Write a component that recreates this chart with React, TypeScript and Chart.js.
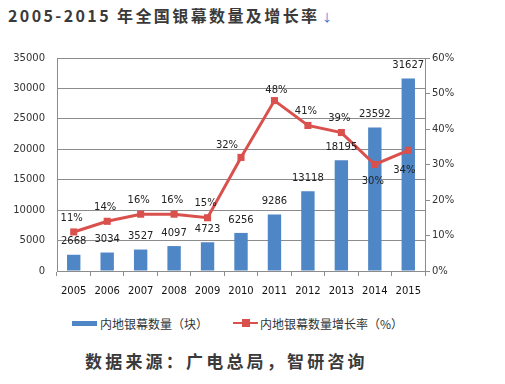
import React, { useEffect, useRef } from "react";
import { Chart, registerables } from "chart.js";

Chart.register(...registerables);

const years = ["2005", "2006", "2007", "2008", "2009", "2010", "2011", "2012", "2013", "2014", "2015"];
const screens = [2668, 3034, 3527, 4097, 4723, 6256, 9286, 13118, 18195, 23592, 31627];
const growth = [11, 14, 16, 16, 15, 32, 48, 41, 39, 30, 34];
const leftTicks = [0, 5000, 10000, 15000, 20000, 25000, 30000, 35000];
const rightTicks = [0, 10, 20, 30, 40, 50, 60];

const BAR_COLOR = "#4F86C6";
const LINE_COLOR = "#D9504D";
const GRID = "#8c8c8c";
const TXT = "#333333";
const NUM_FONT = "'DejaVu Sans', sans-serif";
const CJK = "'Noto Sans CJK SC', sans-serif";

const labelPlugin = {
  id: "valueLabels",
  afterDatasetsDraw(chart: any) {
    const ctx = chart.ctx;
    ctx.save();
    ctx.font = `10px ${NUM_FONT}`;
    ctx.fillStyle = "#222";
    ctx.textAlign = "center";
    ctx.textBaseline = "middle";
    const barMeta = chart.getDatasetMeta(0);
    barMeta.data.forEach((el: any, i: number) => {
      ctx.fillText(String(screens[i]), el.x, el.y - 13);
    });
    const lineMeta = chart.getDatasetMeta(1);
    lineMeta.data.forEach((el: any, i: number) => {
      let dx = -2;
      let dy = -14;
      if (i === 5) { dx = -14; dy = -12; }
      if (i === 6) { dx = 2; dy = -10; }
      if (i === 9) { dx = -2; dy = 17; }
      if (i === 10) { dx = -4; dy = 20; }
      ctx.fillText(growth[i] + "%", el.x + dx, el.y + dy);
    });
    ctx.restore();
  },
};

export default function App() {
  const ref = useRef<HTMLCanvasElement>(null);
  useEffect(() => {
    if (!ref.current) return;
    const chart = new Chart(ref.current, {
      type: "bar",
      data: {
        labels: years,
        datasets: [
          {
            type: "bar",
            label: "内地银幕数量（块）",
            data: screens,
            backgroundColor: BAR_COLOR,
            categoryPercentage: 1,
            barPercentage: 0.4,
            yAxisID: "y",
            order: 2,
          },
          {
            type: "line",
            label: "内地银幕数量增长率（%）",
            data: growth,
            borderColor: LINE_COLOR,
            backgroundColor: LINE_COLOR,
            borderWidth: 3,
            pointStyle: "rect",
            pointRadius: 5,
            pointBorderWidth: 0,
            tension: 0,
            yAxisID: "y1",
            order: 1,
          } as any,
        ],
      },
      options: {
        animation: false,
        responsive: false,
        maintainAspectRatio: false,
        layout: { padding: { top: 14, left: 0, right: 0, bottom: 0 } },
        plugins: {
          legend: { display: false },
          tooltip: { enabled: false },
        },
        scales: {
          x: {
            offset: true,
            grid: { offset: true, drawOnChartArea: false, drawTicks: true, tickLength: 5, color: GRID },
            border: { color: GRID },
            ticks: { color: "#111", font: { family: NUM_FONT, size: 10 }, padding: 9, maxRotation: 0 },
            afterFit(s: any) { s.height = 39; },
          },
          y: {
            position: "left",
            min: 0,
            max: 35000,
            afterBuildTicks(s: any) { s.ticks = leftTicks.map((v) => ({ value: v })); },
            grid: { color: GRID, drawTicks: false },
            border: { color: GRID },
            ticks: { color: TXT, font: { family: NUM_FONT, size: 10 }, padding: 12, callback: (v: any) => String(v) },
            afterFit(s: any) { s.width = 57; },
          },
          y1: {
            position: "right",
            min: 0,
            max: 60,
            afterBuildTicks(s: any) { s.ticks = rightTicks.map((v) => ({ value: v })); },
            grid: { drawOnChartArea: false, drawTicks: true, tickLength: 5, color: GRID },
            border: { color: GRID },
            ticks: { color: TXT, font: { family: NUM_FONT, size: 10 }, padding: 2, callback: (v: any) => v + "%" },
            afterFit(s: any) { s.width = 80; },
          },
        },
      },
      plugins: [labelPlugin],
    });
    return () => chart.destroy();
  }, []);

  return (
    <div style={{ position: "absolute", left: 0, top: 0, width: 505, height: 384, background: "#fff", overflow: "hidden" }}>
      <div
        style={{
          position: "absolute",
          left: 8,
          top: 3,
          fontFamily: CJK,
          fontWeight: 700,
          fontSize: 16,
          letterSpacing: 2.4,
          color: "#3a3a3a",
          whiteSpace: "nowrap",
        }}
      >
        2005-2015 年全国银幕数量及增长率
        <span style={{ color: "#3a6fd8", fontSize: 11, fontWeight: 400, marginLeft: 2 }}>↓</span>
      </div>
      <canvas ref={ref} width={505} height={270} style={{ position: "absolute", left: 0, top: 40, width: 505, height: 270 }} />
      <div style={{ position: "absolute", left: 72, top: 314, height: 18, display: "flex", alignItems: "center", fontFamily: CJK, fontSize: 12, color: TXT, whiteSpace: "nowrap" }}>
        <span style={{ display: "inline-block", width: 25, height: 5, background: BAR_COLOR, marginRight: 3 }} />
        <span>内地银幕数量（块）</span>
      </div>
      <div style={{ position: "absolute", left: 233, top: 314, height: 18, display: "flex", alignItems: "center", fontFamily: CJK, fontSize: 12, color: TXT, whiteSpace: "nowrap" }}>
        <span style={{ position: "relative", display: "inline-block", width: 25, height: 8, marginRight: 2 }}>
          <span style={{ position: "absolute", left: 0, top: 3, width: 25, height: 2, background: LINE_COLOR }} />
          <span style={{ position: "absolute", left: 9, top: 0, width: 8, height: 8, background: LINE_COLOR }} />
        </span>
        <span>内地银幕数量增长率（%）</span>
      </div>
      <div
        style={{
          position: "absolute",
          left: 85,
          top: 348,
          fontFamily: CJK,
          fontWeight: 700,
          fontSize: 17,
          letterSpacing: 3.2,
          color: "#3a3a3a",
          whiteSpace: "nowrap",
        }}
      >
        数据来源：广电总局，智研咨询
      </div>
    </div>
  );
}
